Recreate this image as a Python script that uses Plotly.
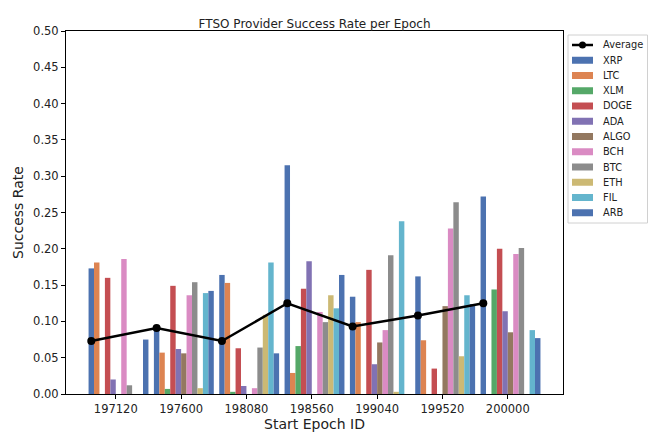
import plotly.graph_objects as go

epochs = ["197120", "197600", "198080", "198560", "199040", "199520", "200000"]
series_names = ["XRP", "LTC", "XLM", "DOGE", "ADA", "ALGO", "BCH", "BTC", "ETH", "FIL", "ARB"]

xrp = [0.173, 0.090, 0.164, 0.315, 0.134, 0.162, 0.272]
ltc = [0.181, 0.057, 0.153, 0.029, 0.099, 0.074, 0.0]
xlm = [0.0, 0.007, 0.003, 0.066, 0.0, 0.0, 0.144]
doge = [0.160, 0.149, 0.063, 0.145, 0.171, 0.035, 0.200]
ada = [0.020, 0.062, 0.011, 0.183, 0.041, 0.0, 0.114]
algo = [0.0, 0.056, 0.0, 0.0, 0.071, 0.121, 0.085]
bch = [0.186, 0.136, 0.008, 0.113, 0.088, 0.228, 0.193]
btc = [0.012, 0.154, 0.064, 0.099, 0.191, 0.264, 0.201]
eth = [0.0, 0.008, 0.109, 0.136, 0.003, 0.052, 0.0]
fil = [0.0, 0.139, 0.181, 0.118, 0.238, 0.136, 0.088]
arb = [0.075, 0.142, 0.056, 0.164, 0.0, 0.124, 0.077]
average = [0.073, 0.091, 0.073, 0.125, 0.093, 0.108, 0.125]

series_values = [xrp, ltc, xlm, doge, ada, algo, bch, btc, eth, fil, arb]
colors = ["#4C72B0", "#DD8452", "#55A868", "#C44E52", "#8172B3", "#937860",
          "#DA8BC3", "#8C8C8C", "#CCB974", "#64B5CD", "#4C72B0"]

font = "DejaVu Sans"
W, H = 652, 439
ML, MR, MT, MB = 66, 89, 31, 45
PW, PH = W - ML - MR, H - MT - MB
w = 1.0 / 12
idx = list(range(len(epochs)))


def px_x(p):
    return (p - ML) / PW


def px_y(p):
    return (H - MB - p) / PH


fig = go.Figure()
for j, (name, vals) in enumerate(zip(series_names, series_values)):
    fig.add_trace(go.Bar(
        x=idx, y=vals, name=name, width=w, offset=j * w - w / 2,
        marker=dict(color=colors[j], line=dict(width=0)), showlegend=False,
    ))
fig.add_trace(go.Scatter(
    x=idx, y=average, mode="lines+markers", name="Average", showlegend=False,
    line=dict(color="black", width=2.5), marker=dict(color="black", size=8),
))

# custom legend (matplotlib-like compact spacing)
shapes = []
annotations = []
shapes.append(dict(type="rect", xref="paper", yref="paper",
                   x0=px_x(568), x1=px_x(647.5), y0=px_y(223), y1=px_y(35),
                   line=dict(color="#d0d0d0", width=1), fillcolor="white", layer="above"))
labels = ["Average"] + series_names
step = 15.25
for k, lab in enumerate(labels):
    yc = 45 + k * step
    if k == 0:
        shapes.append(dict(type="line", xref="paper", yref="paper",
                           x0=px_x(572), x1=px_x(593), y0=px_y(yc), y1=px_y(yc),
                           line=dict(color="black", width=2.5), layer="above"))
        shapes.append(dict(type="circle", xref="paper", yref="paper",
                           x0=px_x(579), x1=px_x(586), y0=px_y(yc + 3.5), y1=px_y(yc - 3.5),
                           line=dict(color="black", width=0), fillcolor="black", layer="above"))
    else:
        shapes.append(dict(type="rect", xref="paper", yref="paper",
                           x0=px_x(572), x1=px_x(593), y0=px_y(yc + 3.5), y1=px_y(yc - 3.5),
                           line=dict(width=0), fillcolor=colors[k - 1], layer="above"))
    annotations.append(dict(text=lab, xref="paper", yref="paper", x=px_x(601), y=px_y(yc),
                            xanchor="left", yanchor="middle", showarrow=False,
                            font=dict(family=font, size=9.8, color="#222")))

fig.update_layout(
    width=W, height=H,
    margin=dict(l=ML, r=MR, t=MT, b=MB, autoexpand=False),
    paper_bgcolor="white", plot_bgcolor="white",
    barmode="overlay",
    font=dict(family=font, size=11, color="#222"),
    title=dict(text="FTSO Provider Success Rate per Epoch", x=0.5, xref="paper",
               y=1, yref="paper", yanchor="bottom", pad=dict(b=3),
               font=dict(family=font, size=12, color="#222")),
    showlegend=False,
    shapes=shapes,
    annotations=annotations,
    xaxis=dict(range=[-0.387, 7.22], tickvals=[i + 0.375 for i in idx], ticktext=epochs,
               showgrid=False, zeroline=False, showline=True, linecolor="black",
               linewidth=1, mirror=True, ticks="outside", ticklen=4, tickcolor="black",
               automargin=False,
               title=dict(text="Start Epoch ID", font=dict(family=font, size=14), standoff=4),
               tickfont=dict(family=font, size=11.5)),
    yaxis=dict(range=[0, 0.5], dtick=0.05, tickformat=".2f",
               showgrid=False, zeroline=False, showline=True, linecolor="black",
               linewidth=1, mirror=True, ticks="outside", ticklen=4, tickcolor="black",
               automargin=False,
               title=dict(text="Success Rate", font=dict(family=font, size=14), standoff=6),
               tickfont=dict(family=font, size=11.5)),
)

fig.write_html("out.html", config={"displayModeBar": False},
               post_script="document.body.style.margin='0';document.body.style.overflow='hidden';")
